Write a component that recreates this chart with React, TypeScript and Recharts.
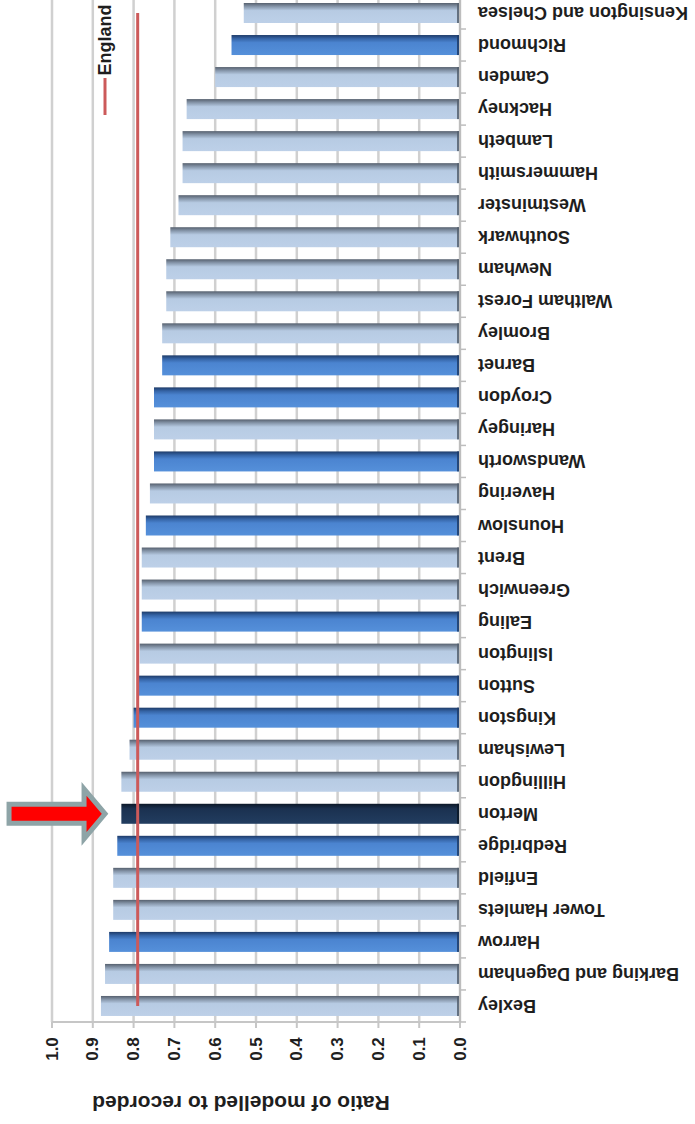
import React from 'react';
import { ComposedChart, Bar, Line, XAxis, YAxis, CartesianGrid, Cell, ReferenceDot } from 'recharts';

// boroughs listed top to bottom as they appear in the (upside-down) picture
const boroughs = [
  'Kensington and Chelsea', 'Richmond', 'Camden', 'Hackney', 'Lambeth', 'Hammersmith',
  'Westminster', 'Southwark', 'Newham', 'Waltham Forest', 'Bromley', 'Barnet', 'Croydon',
  'Haringey', 'Wandsworth', 'Havering', 'Hounslow', 'Brent', 'Greenwich', 'Ealing',
  'Islington', 'Sutton', 'Kingston', 'Lewisham', 'Hillingdon', 'Merton', 'Redbridge',
  'Enfield', 'Tower Hamlets', 'Harrow', 'Barking and Dagenham', 'Bexley',
];

const ratios = [
  0.53, 0.56, 0.60, 0.67, 0.68, 0.68,
  0.69, 0.71, 0.72, 0.72, 0.73, 0.73, 0.75,
  0.75, 0.75, 0.76, 0.77, 0.78, 0.78, 0.78,
  0.785, 0.79, 0.80, 0.81, 0.83, 0.83, 0.84,
  0.85, 0.85, 0.86, 0.87, 0.88,
];

const shades = [
  'light', 'mid', 'light', 'light', 'light', 'light',
  'light', 'light', 'light', 'light', 'light', 'mid', 'mid',
  'light', 'mid', 'light', 'mid', 'light', 'light', 'mid',
  'light', 'mid', 'mid', 'light', 'light', 'navy', 'mid',
  'light', 'light', 'mid', 'light', 'light',
];

const englandRatio = 0.79;
const valueTicks = [0, 0.1, 0.2, 0.3, 0.4, 0.5, 0.6, 0.7, 0.8, 0.9, 1.0];
const highlighted = 'Merton';

const data = boroughs.map((name, i) => ({
  name,
  ratio: ratios[i],
  england: englandRatio,
  shade: shades[i],
}));

const FILLS: Record<string, string> = {
  light: 'url(#barLight)',
  mid: 'url(#barMid)',
  navy: 'url(#barNavy)',
};
const EDGES: Record<string, string> = {
  light: '#55606f',
  mid: '#1d3c6a',
  navy: '#0b1727',
};

const FONT = '"Liberation Sans", Arial, sans-serif';

const BarShape = (props: any) => {
  const { x, y, width, height, payload } = props;
  const left = Math.min(x, x + width);
  const w = Math.abs(width);
  const shade = payload?.shade || 'light';
  return (
    <g>
      <rect x={left} y={y} width={w} height={height} fill={FILLS[shade]} />
      <rect x={left + w - 3} y={y} width={3} height={height} fill={EDGES[shade]} opacity={0.85} />
    </g>
  );
};

const BoroughTick = (props: any) => {
  const { x, y, payload } = props;
  return (
    <g>
      <line x1={x - 18} y1={y + 16} x2={x - 12} y2={y + 16} stroke="#bdbdbd" strokeWidth={1.5} />
      <text
        x={x}
        y={y}
        transform={`rotate(180 ${x} ${y})`}
        textAnchor="end"
        dominantBaseline="central"
        fontFamily={FONT}
        fontWeight="bold"
        fontSize={18}
        fill="#1e1e1e"
      >
        {payload.value}
      </text>
    </g>
  );
};

const ValueTick = (props: any) => {
  const { x, y, payload } = props;
  const cy = y + 19;
  return (
    <text
      x={x}
      y={cy}
      transform={`rotate(-90 ${x} ${cy})`}
      textAnchor="middle"
      dominantBaseline="central"
      fontFamily={FONT}
      fontWeight="bold"
      fontSize={17}
      fill="#1e1e1e"
    >
      {Number(payload.value).toFixed(1)}
    </text>
  );
};

const Arrow = (props: any) => {
  const { cx, cy } = props;
  const pts = [
    [-96, -9.5], [-21, -9.5], [-21, -25], [0, 0], [-21, 25], [-21, 9.5], [-96, 9.5],
  ].map(([dx, dy]) => `${cx + dx},${cy + dy}`).join(' ');
  return <polygon points={pts} fill="#ff0000" stroke="#8ea4a7" strokeWidth={5} strokeLinejoin="miter" />;
};

export default function App() {
  return (
    <div style={{ position: 'fixed', top: 0, left: 0, width: 695, height: 1124, background: '#fff' }}>
      <ComposedChart
        width={695}
        height={1124}
        data={data}
        layout="vertical"
        margin={{ top: -3, right: 0, bottom: 0, left: 52 }}
      >
        <defs>
          <linearGradient id="barLight" x1="0" y1="0" x2="0" y2="1">
            <stop offset="0%" stopColor="#56606e" />
            <stop offset="18%" stopColor="#8797ab" />
            <stop offset="38%" stopColor="#b7cbe3" />
            <stop offset="100%" stopColor="#bdd0e8" />
          </linearGradient>
          <linearGradient id="barMid" x1="0" y1="0" x2="0" y2="1">
            <stop offset="0%" stopColor="#1e3b68" />
            <stop offset="18%" stopColor="#3564a6" />
            <stop offset="38%" stopColor="#4b84d0" />
            <stop offset="100%" stopColor="#5590da" />
          </linearGradient>
          <linearGradient id="barNavy" x1="0" y1="0" x2="0" y2="1">
            <stop offset="0%" stopColor="#0c1828" />
            <stop offset="25%" stopColor="#1b3150" />
            <stop offset="100%" stopColor="#223d60" />
          </linearGradient>
        </defs>
        <CartesianGrid horizontal={false} stroke="#d0d0d0" strokeWidth={2.5} />
        <XAxis
          type="number"
          domain={[0, 1]}
          reversed
          ticks={valueTicks}
          interval={0}
          height={102}
          axisLine={{ stroke: '#c6c6c6', strokeWidth: 2 }}
          tickLine={{ stroke: '#c6c6c6', strokeWidth: 2 }}
          tickSize={6}
          tick={<ValueTick />}
        />
        <YAxis
          type="category"
          dataKey="name"
          orientation="right"
          width={235}
          interval={0}
          axisLine={{ stroke: '#bdbdbd', strokeWidth: 2 }}
          tickLine={false}
          tickSize={6}
          tickMargin={12}
          tick={<BoroughTick />}
        />
        <Bar dataKey="ratio" barSize={20} shape={<BarShape />} isAnimationActive={false}>
          {data.map((d) => (
            <Cell key={d.name} fill={FILLS[d.shade]} />
          ))}
        </Bar>
        <Line
          dataKey="england"
          stroke="#cc5a5a"
          strokeWidth={3}
          dot={false}
          activeDot={false}
          isAnimationActive={false}
        />
        <ReferenceDot
          x={0.87}
          y={highlighted}
          r={0}
          ifOverflow="visible"
          shape={(p: any) => <Arrow cx={p.cx} cy={p.cy} />}
        />
      </ComposedChart>
      <svg
        width={695}
        height={1124}
        style={{ position: 'absolute', top: 0, left: 0, pointerEvents: 'none' }}
      >
        <line x1={105} y1={78} x2={105} y2={115} stroke="#cc5a5a" strokeWidth={3} />
        <text
          x={105}
          y={40}
          transform="rotate(-90 105 40)"
          textAnchor="middle"
          dominantBaseline="central"
          fontFamily={FONT}
          fontWeight="bold"
          fontSize={18}
          fill="#1e1e1e"
        >
          England
        </text>
        <text
          x={241}
          y={1103}
          transform="rotate(180 241 1103)"
          textAnchor="middle"
          dominantBaseline="central"
          fontFamily={FONT}
          fontWeight="bold"
          fontSize={21}
          fill="#1e1e1e"
        >
          Ratio of modelled to recorded
        </text>
      </svg>
    </div>
  );
}
